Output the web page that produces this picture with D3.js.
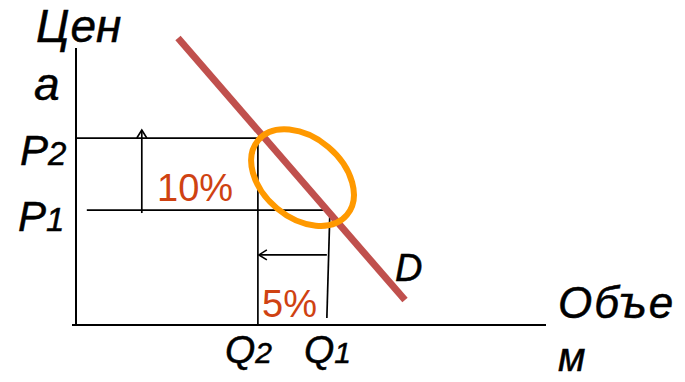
<!DOCTYPE html>
<html>
<head>
<meta charset="utf-8">
<script src="https://cdn.jsdelivr.net/npm/d3@7"></script>
<style>
  html, body { margin: 0; padding: 0; background: #fff; }
  svg { display: block; }
  text { font-family: "Liberation Sans", Arial, sans-serif; }
</style>
</head>
<body>
<svg id="chart" width="685" height="382"></svg>
<script>
// ---- data (in abstract price/quantity units) ----
const demandLine = [[21.7, 103.6], [70.0, 9.0]];   // D curve endpoints [Q, P]
const prices = { P1: 41.5, P2: 67.5 };
const quantities = { Q1: 53.8, Q2: 38.7 };
const priceChange = "10%";
const quantityChange = "5%";
const ellipseCenter = [48.2, 53.2];
const axisTitles = { y: ["Цен", "а"], x: ["Объе", "м"] };

// ---- scales ----
const x = d3.scaleLinear().domain([0, 100]).range([76, 546]);
const y = d3.scaleLinear().domain([0, 100]).range([325, 48]);

const svg = d3.select("#chart");
const defs = svg.append("defs");
defs.append("marker")
  .attr("id", "arr")
  .attr("viewBox", "-10 -6 12 12")
  .attr("refX", 0).attr("refY", 0)
  .attr("markerWidth", 12).attr("markerHeight", 12)
  .attr("markerUnits", "userSpaceOnUse")
  .attr("orient", "auto")
  .append("path")
  .attr("d", "M-8,-5 L0,0 L-8,5")
  .attr("fill", "none").attr("stroke", "#000").attr("stroke-width", 1.6);

// axes
svg.append("line")
  .attr("x1", x(0)).attr("y1", y(100)).attr("x2", x(0)).attr("y2", y(0) + 1)
  .attr("stroke", "#000").attr("stroke-width", 2);
svg.append("line")
  .attr("x1", x(0) - 4).attr("y1", y(0)).attr("x2", x(100)).attr("y2", y(0))
  .attr("stroke", "#000").attr("stroke-width", 2);

function qAtP(p) {
  const [a, b] = demandLine;
  return a[0] + (p - a[1]) * (b[0] - a[0]) / (b[1] - a[1]);
}
// price guide lines
svg.append("line")
  .attr("x1", x(0)).attr("y1", y(prices.P2))
  .attr("x2", x(qAtP(prices.P2))).attr("y2", y(prices.P2))
  .attr("stroke", "#000").attr("stroke-width", 1.7);
svg.append("line")
  .attr("x1", x(2.3)).attr("y1", y(prices.P1))
  .attr("x2", x(quantities.Q1)).attr("y2", y(prices.P1))
  .attr("stroke", "#000").attr("stroke-width", 1.7);

// quantity guide lines
svg.append("line")
  .attr("x1", x(quantities.Q2)).attr("y1", y(prices.P2) + 2)
  .attr("x2", x(quantities.Q2)).attr("y2", y(0))
  .attr("stroke", "#000").attr("stroke-width", 1.7);
svg.append("line")
  .attr("x1", x(quantities.Q1) + 1).attr("y1", y(prices.P1) + 3)
  .attr("x2", x(quantities.Q1) - 2).attr("y2", y(0) - 7)
  .attr("stroke", "#000").attr("stroke-width", 1.7);

// arrows
svg.append("line")
  .attr("x1", x(14)).attr("y1", y(prices.P1) + 3)
  .attr("x2", x(14)).attr("y2", y(prices.P2) - 8)
  .attr("stroke", "#000").attr("stroke-width", 1.7)
  .attr("marker-end", "url(#arr)");
svg.append("line")
  .attr("x1", x(quantities.Q1) - 2).attr("y1", y(25.3))
  .attr("x2", x(quantities.Q2) + 1).attr("y2", y(25.3))
  .attr("stroke", "#000").attr("stroke-width", 1.7)
  .attr("marker-end", "url(#arr)");

// demand curve
svg.append("line")
  .attr("x1", x(demandLine[0][0])).attr("y1", y(demandLine[0][1]))
  .attr("x2", x(demandLine[1][0])).attr("y2", y(demandLine[1][1]))
  .attr("stroke", "#C0504D").attr("stroke-width", 7);

// highlight ellipse
svg.append("ellipse")
  .attr("cx", 0).attr("cy", 0).attr("rx", 58).attr("ry", 40)
  .attr("transform", `translate(${x(ellipseCenter[0])},${y(ellipseCenter[1])}) rotate(40)`)
  .attr("fill", "none").attr("stroke", "#FF9900").attr("stroke-width", 6);

// percentage labels
svg.append("text").attr("x", 157).attr("y", 201)
  .attr("font-size", 38).attr("fill", "#CF4212").text(priceChange);
svg.append("text").attr("x", 262).attr("y", 317)
  .attr("font-size", 38).attr("fill", "#CF4212").text(quantityChange);

// axis titles
const it = sel => sel.attr("font-style", "italic").attr("fill", "#000")
  .attr("stroke", "#000").attr("stroke-width", 0.5);
it(svg.append("text").attr("x", 36).attr("y", 42).attr("font-size", 46)).text(axisTitles.y[0]);
it(svg.append("text").attr("x", 34).attr("y", 100).attr("font-size", 46)).text(axisTitles.y[1]);
it(svg.append("text").attr("x", 558).attr("y", 318).attr("font-size", 44)
  .attr("letter-spacing", 2)).text(axisTitles.x[0]);
it(svg.append("text").attr("x", 558).attr("y", 371).attr("font-size", 40)).text(axisTitles.x[1]);

// P / Q labels
function subLabel(px, py, main, sub, fs, fsSub) {
  const t = it(svg.append("text").attr("x", px).attr("y", py).attr("font-size", fs));
  t.append("tspan").text(main);
  t.append("tspan").attr("font-size", fsSub).text(sub);
}
subLabel(20, 165, "P", "2", 42, 33);
subLabel(18, 231, "P", "1", 42, 33);
subLabel(225, 363, "Q", "2", 39, 30);
subLabel(304, 363, "Q", "1", 39, 30);

// D label
it(svg.append("text").attr("x", 395).attr("y", 281).attr("font-size", 38)).text("D");
</script>
</body>
</html>
